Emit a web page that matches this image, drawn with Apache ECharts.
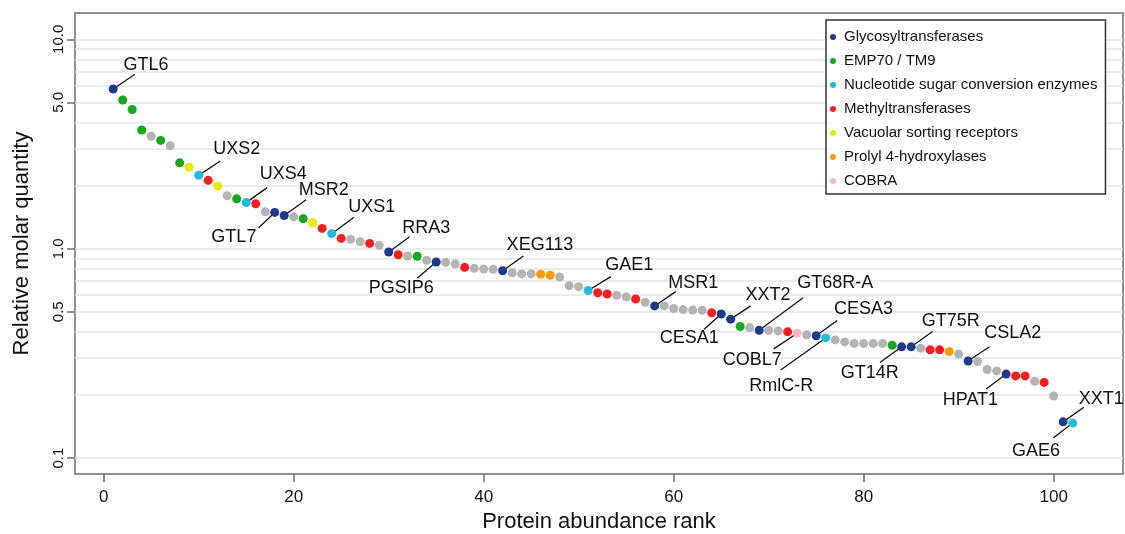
<!DOCTYPE html>
<html>
<head>
<meta charset="utf-8">
<script src="https://cdn.jsdelivr.net/npm/echarts@6/dist/echarts.min.js"></script>
<style>
html,body{margin:0;padding:0;background:#fff;}
#chart{width:1125px;height:534px;}
</style>
</head>
<body>
<div id="chart"></div>
<script>
// ---------------- DATA ----------------
const categories = ['Glycosyltransferases','EMP70 / TM9','Nucleotide sugar conversion enzymes','Methyltransferases','Vacuolar sorting receptors','Prolyl 4-hydroxylases','COBRA'];
const categoryCodes = ['G','E','N','M','V','P','C'];
const otherCode = '-';

const ranks = [1,2,3,4,5,6,7,8,9,10,11,12,13,14,15,16,17,18,19,20,21,22,23,24,25,26,27,28,29,30,31,32,33,34,35,36,37,38,39,40,41,42,43,44,45,46,47,48,49,50,51,52,53,54,55,56,57,58,59,60,61,62,63,64,65,66,67,68,69,70,71,72,73,74,75,76,77,78,79,80,81,82,83,84,85,86,87,88,89,90,91,92,93,94,95,96,97,98,99,100,101,102];

const values = [
  5.79,5.13,4.62,3.69,3.44,3.29,3.10,2.57,2.45,2.24,
  2.12,1.99,1.79,1.73,1.66,1.64,1.50,1.49,1.44,1.42,
  1.39,1.33,1.25,1.18,1.12,1.11,1.08,1.06,1.04,0.964,
  0.936,0.923,0.920,0.880,0.864,0.861,0.845,0.815,0.806,0.800,
  0.798,0.785,0.768,0.758,0.758,0.755,0.747,0.733,0.666,0.659,
  0.632,0.616,0.608,0.599,0.589,0.575,0.555,0.533,0.533,0.518,
  0.512,0.510,0.508,0.494,0.488,0.461,0.425,0.420,0.408,0.408,
  0.405,0.401,0.395,0.388,0.384,0.375,0.367,0.359,0.353,0.353,
  0.353,0.353,0.346,0.340,0.340,0.335,0.329,0.329,0.323,0.314,
  0.291,0.289,0.265,0.261,0.252,0.247,0.247,0.233,0.230,0.198,
  0.149,0.147
];

const groups = [
  'G','E','E','E','-','E','-','E','V','N',
  'M','V','-','E','N','M','-','G','G','-',
  'E','V','M','N','M','-','-','M','-','G',
  'M','-','E','-','G','-','-','M','-','-',
  '-','G','-','-','-','P','P','-','-','-',
  'N','M','M','-','-','M','-','G','-','-',
  '-','-','-','M','G','G','E','-','G','-',
  '-','M','C','-','G','N','-','-','-','-',
  '-','-','E','G','G','-','M','M','P','-',
  'G','-','-','-','G','M','M','-','M','-',
  'G','N'
];

const labelRanks = [1,10,15,19,18,24,30,35,42,51,58,65,66,69,73,75,76,84,85,91,95,101,102];
const labelTexts = ['GTL6','UXS2','UXS4','MSR2','GTL7','UXS1','RRA3','PGSIP6','XEG113','GAE1','MSR1','CESA1','XXT2','GT68R-A','COBL7','CESA3','RmlC-R','GT14R','GT75R','CSLA2','HPAT1','XXT1','GAE6'];

const xTickValues = [0,20,40,60,80,100];
const yTickValues = [0.1,0.5,1,5,10];
const yGridValues = [0.1,0.2,0.3,0.4,0.5,0.6,0.7,0.8,0.9,1,2,3,4,5,6,7,8,9,10];

// ---------------- STYLE / LAYOUT ----------------
const categoryColors = ['#1d3b8e','#14a81c','#1ebde0','#ff1c1c','#ecec00','#ff9a00','#ffb4c2'];
const otherColor = '#b4b4b4';
const FONT = '"Liberation Sans", Arial, Helvetica, sans-serif';
// label leader line end [dx,dy] and text centre [dx,dy], relative to the point (px)
const labelPlacement = {
  'GTL6':[21.7,-14.7,32.7,-24.4],
  'UXS2':[21.6,-14.3,38,-26.1],
  'UXS4':[21,-15,37,-28.3],
  'MSR2':[22,-15.7,39.6,-25.7],
  'GTL7':[-16,15.4,-40.8,25],
  'UXS1':[22.3,-16.4,40,-26.4],
  'RRA3':[21,-15.3,37.7,-24.3],
  'PGSIP6':[-19,16.3,-35,26.3],
  'XEG113':[20.7,-14.7,37.3,-25.7],
  'GAE1':[22.7,-13.8,41,-25.5],
  'MSR1':[21,-14.3,38.7,-23.3],
  'CESA1':[-17,15.3,-32,24.3],
  'XXT2':[20,-13.3,37.3,-24.3],
  'GT68R-A':[44,-32.6,76,-47],
  'COBL7':[-23.4,15.7,-45,26.5],
  'CESA3':[21,-15.3,47.3,-27],
  'RmlC-R':[-45,32,-44.5,48],
  'GT14R':[-21.7,15.7,-32,26],
  'GT75R':[21.4,-15.3,39.7,-26.3],
  'CSLA2':[21.3,-14.3,44.7,-27.7],
  'HPAT1':[-20,15,-35.7,26.4],
  'XXT1':[20.7,-14.7,38,-22.7],
  'GAE6':[-19.4,15,-36.7,28.4]
};

// ---------------- BUILD ----------------
function pointsFor(code){
  const out = [];
  for (let i = 0; i < values.length; i++) if (groups[i] === code) out.push([ranks[i], values[i]]);
  return out;
}

const series = [];
// annotation layer + horizontal grid lines
series.push({
  type: 'custom',
  name: 'labels',
  z: 2,
  silent: true,
  animation: false,
  data: labelRanks.map(r => [r, values[ranks.indexOf(r)]]),
  renderItem: function(params, api){
    const i = params.dataIndex;
    const p = api.coord([api.value(0), api.value(1)]);
    const o = labelPlacement[labelTexts[i]];
    return {type:'group', children:[
      {type:'line', shape:{x1:p[0], y1:p[1], x2:p[0]+o[0], y2:p[1]+o[1]}, style:{stroke:'#111', lineWidth:1.3}},
      {type:'text', x:p[0]+o[2], y:p[1]+o[3], style:{text:labelTexts[i], fill:'#111', fontSize:18, fontFamily:FONT, align:'center', verticalAlign:'middle'}}
    ]};
  },
  markLine: {
    silent: true, symbol: 'none', animation: false, z: 0,
    label: {show:false},
    lineStyle: {color:'#e6e6e6', width:1.5, type:'solid'},
    emphasis: {disabled:true},
    data: yGridValues.map(v => ({yAxis: v}))
  }
});
// "other" proteins
series.push({
  type:'scatter', name:'Other', z:3, symbolSize:9, animation:false, silent:true,
  itemStyle:{color:otherColor, opacity:1},
  data: pointsFor(otherCode)
});
categories.forEach((c, k) => {
  series.push({
    type:'scatter', name:c, z:3, symbolSize:9, animation:false, silent:true,
    itemStyle:{color:categoryColors[k], opacity:1},
    data: pointsFor(categoryCodes[k])
  });
});

const chart = echarts.init(document.getElementById('chart'), null, {renderer:'canvas'});
chart.setOption({
  backgroundColor:'#fff',
  animation:false,
  textStyle:{fontFamily:FONT},
  grid:{left:75, right:2, top:13, bottom:60, outerBoundsMode:'none', containLabel:false,
        show:true, borderColor:'#6e6e6e', borderWidth:1.5, backgroundColor:'transparent'},
  legend:{
    data: categories,
    orient:'vertical', left:826, top:20, z:10,
    icon:'circle', itemWidth:12, itemHeight:6, itemGap:6,
    padding:[8,8,4,4],
    backgroundColor:'#fff', borderColor:'#333', borderWidth:1.5,
    textStyle:{fontSize:15, lineHeight:18, color:'#111', fontFamily:FONT},
    selectedMode:false
  },
  xAxis:{
    type:'value', min:-3.02, max:107.3,
    name:'Protein abundance rank', nameLocation:'middle', nameGap:37,
    nameTextStyle:{fontSize:22, color:'#111', fontFamily:FONT},
    axisLine:{show:false, onZero:false},
    axisTick:{show:true, length:8, customValues:xTickValues, lineStyle:{color:'#6e6e6e', width:1.5}},
    axisLabel:{show:true, customValues:xTickValues, fontSize:17, color:'#111', margin:15, fontFamily:FONT},
    splitLine:{show:false}
  },
  yAxis:{
    type:'log', logBase:10, min:0.084, max:13.35,
    name:'Relative molar quantity', nameLocation:'middle', nameGap:42,
    nameTextStyle:{fontSize:22, color:'#111', fontFamily:FONT},
    axisLine:{show:false, onZero:false},
    axisTick:{show:true, length:8, customValues:yTickValues, lineStyle:{color:'#6e6e6e', width:1.5}},
    axisLabel:{show:true, customValues:yTickValues, rotate:90, fontSize:15, color:'#111', margin:9, fontFamily:FONT,
      formatter: v => Number(v).toFixed(1)},
    splitLine:{show:false},
    minorTick:{show:false}, minorSplitLine:{show:false}
  },
  series: series
});
</script>
</body>
</html>
